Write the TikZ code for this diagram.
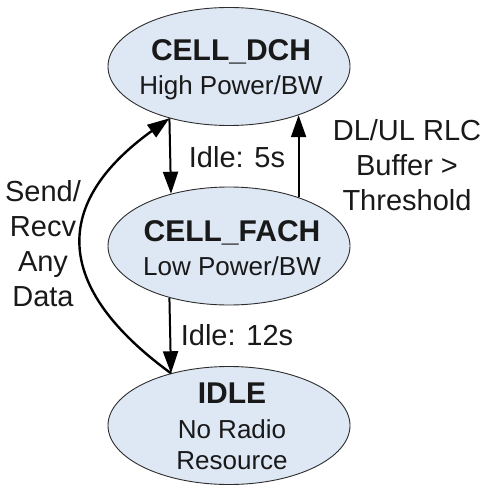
\documentclass[tikz,border=0pt]{standalone}
\usepackage{fontspec}
\setmainfont{Liberation Sans}
\usetikzlibrary{arrows.meta,shapes.geometric}
\definecolor{statefill}{RGB}{222,231,244}
\definecolor{stateline}{RGB}{45,45,45}
\definecolor{ink}{RGB}{25,25,25}
\begin{document}
\begin{tikzpicture}[x=1pt,y=1pt,
  state/.style={ellipse, draw=stateline, line width=0.9pt, fill=statefill,
    minimum width=242pt, minimum height=118pt, inner sep=0pt},
  statetext/.style={align=center, text=ink, inner sep=0pt,
    font=\fontsize{26}{31}\selectfont},
  lbl/.style={align=center, text=ink, inner sep=0pt,
    font=\fontsize{29}{35}\selectfont},
  tip/.style={-{Triangle[length=22pt,width=15pt]}},
  trans/.style={line width=2pt, tip},
  back/.style={line width=2.4pt, tip},
]
\useasboundingbox (0,0) rectangle (489,488);

% the three RRC states
\node[state] (dch)  at (229,421.5) {};
\node[state] (fach) at (229,242) {};
\node[state] (idle) at (229,62.5) {};

\node[statetext] (dcht) at (231,418)
  {{\bfseries\fontsize{30}{36}\selectfont CELL\_DCH}\\[3pt]High Power/BW};
\node[statetext] (facht) at (232,239.5)
  {{\bfseries\fontsize{30}{36}\selectfont CELL\_FACH}\\[3pt]Low Power/BW};
\node[statetext] (idlet) at (232,62)
  {{\bfseries\fontsize{30}{36}\selectfont IDLE}\\[4pt]No Radio\\Resource};

% transitions
\draw[trans] (dch.221.1) -- (fach.138.9);
\draw[trans] (fach.35.7) -- (dch.-35.7);
\draw[trans] (fach.221.1) -- (idle.138.9);
\draw[back] (idle.138.9) .. controls +(-118,86) and +(-118,-85) .. (dch.221.1);

% transition labels
\node[lbl] (l5)    at (237,331) {Idle: 5s};
\node[lbl] (l12)   at (237,153) {Idle: 12s};
\node[lbl] (lbuf)  at (407,323) {DL/UL RLC\\Buffer >\\Threshold};
\node[lbl] (lsend) at (43,244)  {Send/\\Recv\\Any\\Data};
\end{tikzpicture}
\end{document}
